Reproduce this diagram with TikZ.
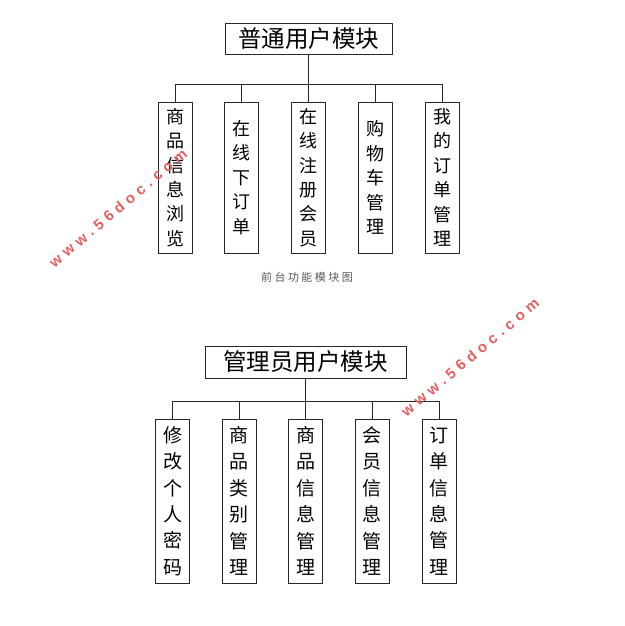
\documentclass[tikz,border=0pt]{standalone}
\usepackage{fontspec}
\setmainfont{Noto Sans CJK SC}
\newfontfamily\wmFont[LetterSpace=32]{Liberation Sans}
\newfontfamily\capFont[LetterSpace=22]{Noto Sans CJK SC}
\definecolor{lineGray}{RGB}{40,40,40}
\definecolor{wmRed}{RGB}{228,95,95}
\tikzset{
    titleBox/.style={draw=lineGray, line width=0.8pt, inner sep=0pt, font=\fontsize{23.5}{26}\selectfont},
    itemBox/.style={draw=lineGray, line width=0.8pt, inner sep=0pt, minimum width=34, align=center},
    busLine/.style={draw=lineGray, line width=0.8pt},
    waterMark/.style={text=wmRed, rotate=40, font=\wmFont\bfseries\fontsize{15}{15}\selectfont}
}

\begin{document}
\begin{tikzpicture}[x=1pt,y=-1pt]
		\useasboundingbox (0,0) rectangle (624,626);
		% front end user modules
		\node[titleBox, minimum width=167, minimum height=31] (userTitle) at (308.5,38.5) {普通用户模块};
		\coordinate (userBus) at (308.5,84);
		\node[itemBox, minimum height=151, font=\fontsize{18}{24.4}\selectfont] (userItemA) at (175,177.5) {商\\品\\信\\息\\浏\\览};
		\node[itemBox, minimum height=151, font=\fontsize{18}{24.4}\selectfont] (userItemB) at (241.5,177.5) {在\\线\\下\\订\\单};
		\node[itemBox, minimum height=151, font=\fontsize{18}{24.4}\selectfont] (userItemC) at (308.5,177.5) {在\\线\\注\\册\\会\\员};
		\node[itemBox, minimum height=151, font=\fontsize{18}{24.4}\selectfont] (userItemD) at (375,177.5) {购\\物\\车\\管\\理};
		\node[itemBox, minimum height=151, font=\fontsize{18}{24.4}\selectfont] (userItemE) at (442,177.5) {我\\的\\订\\单\\管\\理};
		\draw[busLine] (userTitle) -- (userBus);
		\draw[busLine] (userItemA.north |- userBus) -- (userItemE.north |- userBus);
		\draw[busLine] (userItemA.north) -- (userItemA.north |- userBus);
		\draw[busLine] (userItemB.north) -- (userItemB.north |- userBus);
		\draw[busLine] (userItemC.north) -- (userItemC.north |- userBus);
		\draw[busLine] (userItemD.north) -- (userItemD.north |- userBus);
		\draw[busLine] (userItemE.north) -- (userItemE.north |- userBus);
		\node[text=black!65, font=\capFont\fontsize{11}{12}\selectfont] (userCaption) at (307,277) {前台功能模块图};
		% admin modules
		\node[titleBox, minimum width=201, minimum height=32] (adminTitle) at (305.5,362) {管理员用户模块};
		\coordinate (adminBus) at (305.5,401);
		\node[itemBox, minimum height=164, font=\fontsize{19}{26.4}\selectfont] (adminItemA) at (172.5,501) {修\\改\\个\\人\\密\\码};
		\node[itemBox, minimum height=164, font=\fontsize{19}{26.4}\selectfont] (adminItemB) at (239,501) {商\\品\\类\\别\\管\\理};
		\node[itemBox, minimum height=164, font=\fontsize{19}{26.4}\selectfont] (adminItemC) at (305.5,501) {商\\品\\信\\息\\管\\理};
		\node[itemBox, minimum height=164, font=\fontsize{19}{26.4}\selectfont] (adminItemD) at (372,501) {会\\员\\信\\息\\管\\理};
		\node[itemBox, minimum height=164, font=\fontsize{19}{26.4}\selectfont] (adminItemE) at (439,501) {订\\单\\信\\息\\管\\理};
		\draw[busLine] (adminTitle) -- (adminBus);
		\draw[busLine] (adminItemA.north |- adminBus) -- (adminItemE.north |- adminBus);
		\draw[busLine] (adminItemA.north) -- (adminItemA.north |- adminBus);
		\draw[busLine] (adminItemB.north) -- (adminItemB.north |- adminBus);
		\draw[busLine] (adminItemC.north) -- (adminItemC.north |- adminBus);
		\draw[busLine] (adminItemD.north) -- (adminItemD.north |- adminBus);
		\draw[busLine] (adminItemE.north) -- (adminItemE.north |- adminBus);
		% watermarks
		\node[waterMark] (markLeft) at (118,208) {www.56doc.com};
		\node[waterMark] (markRight) at (470,357) {www.56doc.com};
\end{tikzpicture}
\end{document}
